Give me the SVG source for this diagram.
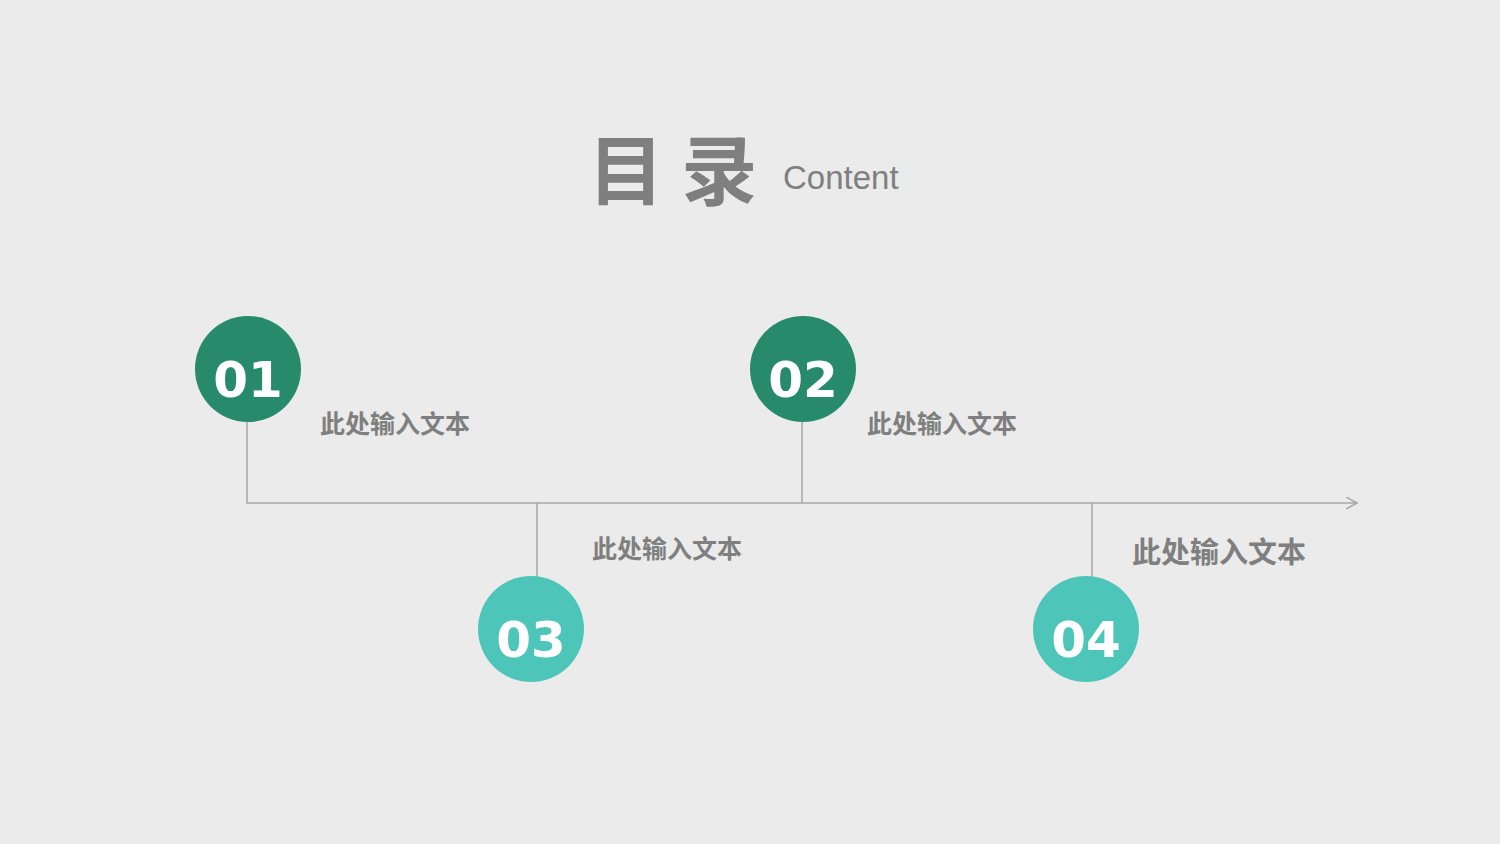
<svg xmlns="http://www.w3.org/2000/svg" width="1500" height="844" viewBox="0 0 1500 844">
<defs>
<style>
.num{font-family:"DejaVu Sans",sans-serif;font-weight:bold;font-size:50px;fill:#ffffff;text-anchor:middle}
.lbl{font-family:"Noto Sans CJK SC",sans-serif;font-weight:bold;font-size:25px;fill:#7f7f7f}
.ln{stroke:#a6a6a6;stroke-width:1.5;fill:none}
</style>
<marker id="arr" markerWidth="14" markerHeight="14" refX="11" refY="6" orient="auto" markerUnits="userSpaceOnUse">
<path d="M0,0 L11,6 L0,12" fill="none" stroke="#a6a6a6" stroke-width="1.5"/>
</marker>
</defs>
<rect width="1500" height="844" fill="#eaebea"/>
<g id="title">
<text x="588" y="199" font-family="Noto Sans CJK SC,sans-serif" font-weight="bold" font-size="76" fill="#7f7f7f">目 录</text>
<text x="783" y="189" font-family="Liberation Sans,sans-serif" font-size="33" fill="#7f7f7f">Content</text>
</g>
<g id="connectors">
<polyline class="ln" points="247,422 247,503 1357,503" marker-end="url(#arr)"/>
<line class="ln" x1="802" y1="422" x2="802" y2="503"/>
<line class="ln" x1="537" y1="503" x2="537" y2="577"/>
<line class="ln" x1="1092" y1="503" x2="1092" y2="577"/>
</g>
<g id="node1">
<circle cx="248" cy="369" r="53" fill="#268a6b"/>
<text class="num" x="248" y="397">01</text>
<text class="lbl" x="320" y="433">此处输入文本</text>
</g>
<g id="node2">
<circle cx="803" cy="369" r="53" fill="#268a6b"/>
<text class="num" x="803" y="397">02</text>
<text class="lbl" x="867" y="433">此处输入文本</text>
</g>
<g id="node3">
<circle cx="531" cy="629" r="53" fill="#4dc5b9"/>
<text class="num" x="531" y="657">03</text>
<text class="lbl" x="592" y="558">此处输入文本</text>
</g>
<g id="node4">
<circle cx="1086" cy="629" r="53" fill="#4dc5b9"/>
<text class="num" x="1086" y="657">04</text>
<text class="lbl" x="1132" y="563" style="font-size:29px">此处输入文本</text>
</g>
</svg>
